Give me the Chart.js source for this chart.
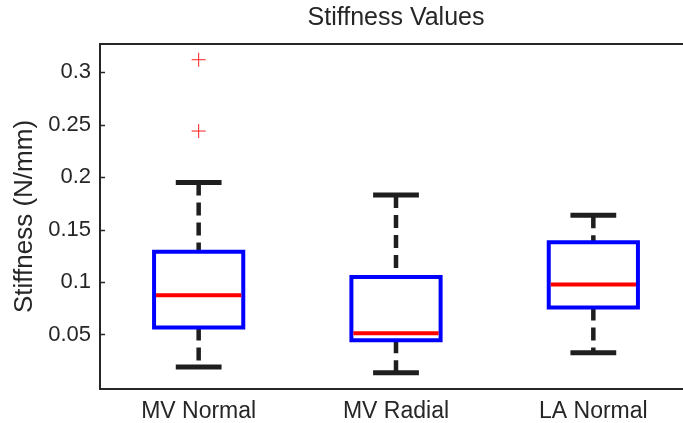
<!DOCTYPE html>
<html>
<head>
<meta charset="utf-8">
<script src="https://cdn.jsdelivr.net/npm/chart.js@4.4.1/dist/chart.umd.min.js"></script>
<style>
  html, body { margin: 0; padding: 0; background: #fff; overflow: hidden; }
  #wrap { width: 683px; height: 423px; overflow: hidden; }
  canvas { display: block; }
</style>
</head>
<body>
<div id="wrap"><canvas id="stiffChart" width="700" height="423"></canvas></div>
<script>
// dados
const categories = ['MV Normal', 'MV Radial', 'LA Normal'];
const lowerWhisker = [0.019, 0.0135, 0.0325];
const q1Values = [0.0566, 0.0446, 0.0757];
const medianValues = [0.0873, 0.0512, 0.0977];
const q3Values = [0.129, 0.1048, 0.138];
const upperWhisker = [0.195, 0.183, 0.1636];
const outlierValues = [[0.312, 0.244], [], []];
const yTicks = [0.05, 0.1, 0.15, 0.2, 0.25, 0.3];

const ink = '#262626';
const fontFamily = '"Liberation Sans", Arial, sans-serif';
const boxHalf = 0.226;
const capHalf = 0.116;
const gap = { x: 0, y: null };

// monta as linhas das caixas a partir dos arrays
const boxPts = [], medPts = [], whiskPts = [], capPts = [], outPts = [];
categories.forEach((c, i) => {
  const x = i + 1;
  boxPts.push({ x: x, y: q1Values[i] }, { x: x - boxHalf, y: q1Values[i] }, { x: x - boxHalf, y: q3Values[i] },
    { x: x + boxHalf, y: q3Values[i] }, { x: x + boxHalf, y: q1Values[i] }, { x: x, y: q1Values[i] }, gap);
  medPts.push({ x: x - boxHalf + 0.01, y: medianValues[i] }, { x: x + boxHalf - 0.01, y: medianValues[i] }, gap);
  whiskPts.push({ x: x, y: upperWhisker[i] }, { x: x, y: q3Values[i] }, gap,
    { x: x, y: q1Values[i] }, { x: x, y: lowerWhisker[i] }, gap);
  capPts.push({ x: x - capHalf, y: upperWhisker[i] }, { x: x + capHalf, y: upperWhisker[i] }, gap,
    { x: x - capHalf, y: lowerWhisker[i] }, { x: x + capHalf, y: lowerWhisker[i] }, gap);
  outlierValues[i].forEach(v => outPts.push({ x: x, y: v }));
});

// moldura e ticks para dentro (estilo MATLAB)
const framePlugin = {
  id: 'frame',
  afterDraw(chart) {
    const { ctx, chartArea: a } = chart;
    const y = chart.scales.y;
    ctx.save();
    ctx.strokeStyle = ink;
    ctx.lineWidth = 2;
    ctx.strokeRect(a.left, a.top, a.right - a.left, a.bottom - a.top);
    ctx.lineWidth = 1.5;
    yTicks.forEach(v => {
      const py = Math.round(y.getPixelForValue(v)) + 0.5;
      ctx.beginPath();
      ctx.moveTo(a.left, py);
      ctx.lineTo(a.left + 5, py);
      ctx.stroke();
    });
    ctx.restore();
  }
};

const lineDefaults = { showLine: true, pointRadius: 0, spanGaps: false, borderCapStyle: 'butt', borderJoinStyle: 'miter' };

new Chart(document.getElementById('stiffChart'), {
  type: 'scatter',
  data: {
    datasets: [
      { data: outPts, showLine: false, pointStyle: 'cross', pointRadius: 7, borderColor: '#ff2020', borderWidth: 1 },
      Object.assign({ data: medPts, borderColor: '#ff0000', borderWidth: 4 }, lineDefaults),
      Object.assign({ data: boxPts, borderColor: '#0000ff', borderWidth: 4 }, lineDefaults),
      Object.assign({ data: capPts, borderColor: '#1e1e1e', borderWidth: 5 }, lineDefaults),
      Object.assign({ data: whiskPts, borderColor: '#1e1e1e', borderWidth: 4.5, borderDash: [13, 7] }, lineDefaults)
    ]
  },
  options: {
    responsive: false,
    animation: false,
    layout: { padding: { right: 8 } },
    plugins: {
      legend: { display: false },
      tooltip: { enabled: false },
      title: {
        display: true,
        text: 'Stiffness Values',
        fullSize: false,
        color: ink,
        font: { family: fontFamily, size: 25, weight: 'normal', lineHeight: 1.2 },
        padding: { top: 3, bottom: 11 }
      }
    },
    scales: {
      x: {
        type: 'linear',
        min: 0.5,
        max: 3.5,
        afterBuildTicks: s => { s.ticks = categories.map((c, i) => ({ value: i + 1 })); },
        afterFit: s => { s.height = 34; },
        grid: { display: false },
        border: { display: true, color: ink, width: 2 },
        ticks: {
          color: ink,
          padding: 1,
          maxRotation: 0,
          font: { family: fontFamily, size: 23 },
          callback: v => categories[Math.round(v) - 1]
        }
      },
      y: {
        min: -0.002,
        max: 0.327,
        afterBuildTicks: s => { s.ticks = yTicks.map(v => ({ value: v })); },
        afterFit: s => { s.width = 100; },
        grid: { display: false },
        border: { display: true, color: ink, width: 2 },
        title: {
          display: true,
          text: 'Stiffness (N/mm)',
          color: ink,
          padding: { top: 9, bottom: 0 },
          font: { family: fontFamily, size: 26, lineHeight: 1.2 }
        },
        ticks: {
          color: ink,
          padding: 1,
          font: { family: fontFamily, size: 22 },
          callback: v => String(v)
        }
      }
    }
  },
  plugins: [framePlugin]
});
</script>
</body>
</html>
